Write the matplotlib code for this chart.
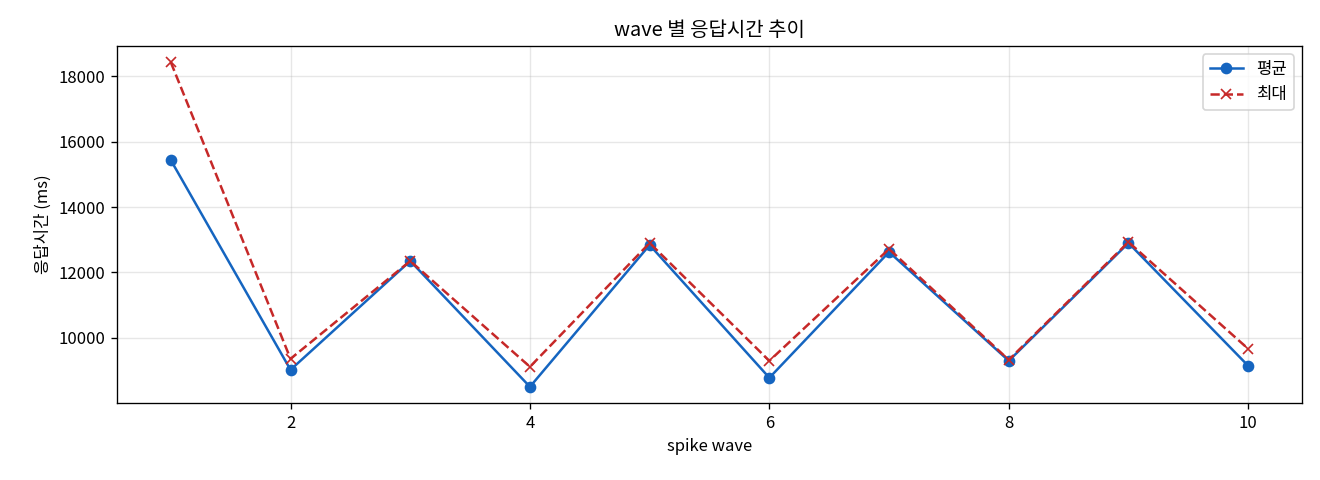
import matplotlib
matplotlib.use("Agg")
import matplotlib.pyplot as plt

plt.rcParams['font.family'] = ['Noto Sans CJK KR', 'DejaVu Sans']
plt.rcParams['axes.unicode_minus'] = False

waves = [1, 2, 3, 4, 5, 6, 7, 8, 9, 10]
avg_ms = [15435, 9023, 12351, 8504, 12840, 8779, 12626, 9298, 12901, 9145]
max_ms = [18427, 9359, 12351, 9115, 12901, 9298, 12718, 9328, 12931, 9664]

fig, ax = plt.subplots(figsize=(11, 4), dpi=120)
fig.subplots_adjust(left=0.0886, right=0.9864, top=0.904, bottom=0.1604)

ax.plot(waves, avg_ms, marker='o', color='#1565C0', label='평균', markersize=6, linewidth=1.5)
ax.plot(waves, max_ms, marker='x', linestyle='--', color='#C62828', label='최대', markersize=6, linewidth=1.5)

ax.set_title('wave 별 응답시간 추이')
ax.set_xlabel('spike wave')
ax.set_ylabel('응답시간 (ms)')
ax.grid(True, alpha=0.3)
ax.legend(loc='upper right')

fig.savefig('out.png')
